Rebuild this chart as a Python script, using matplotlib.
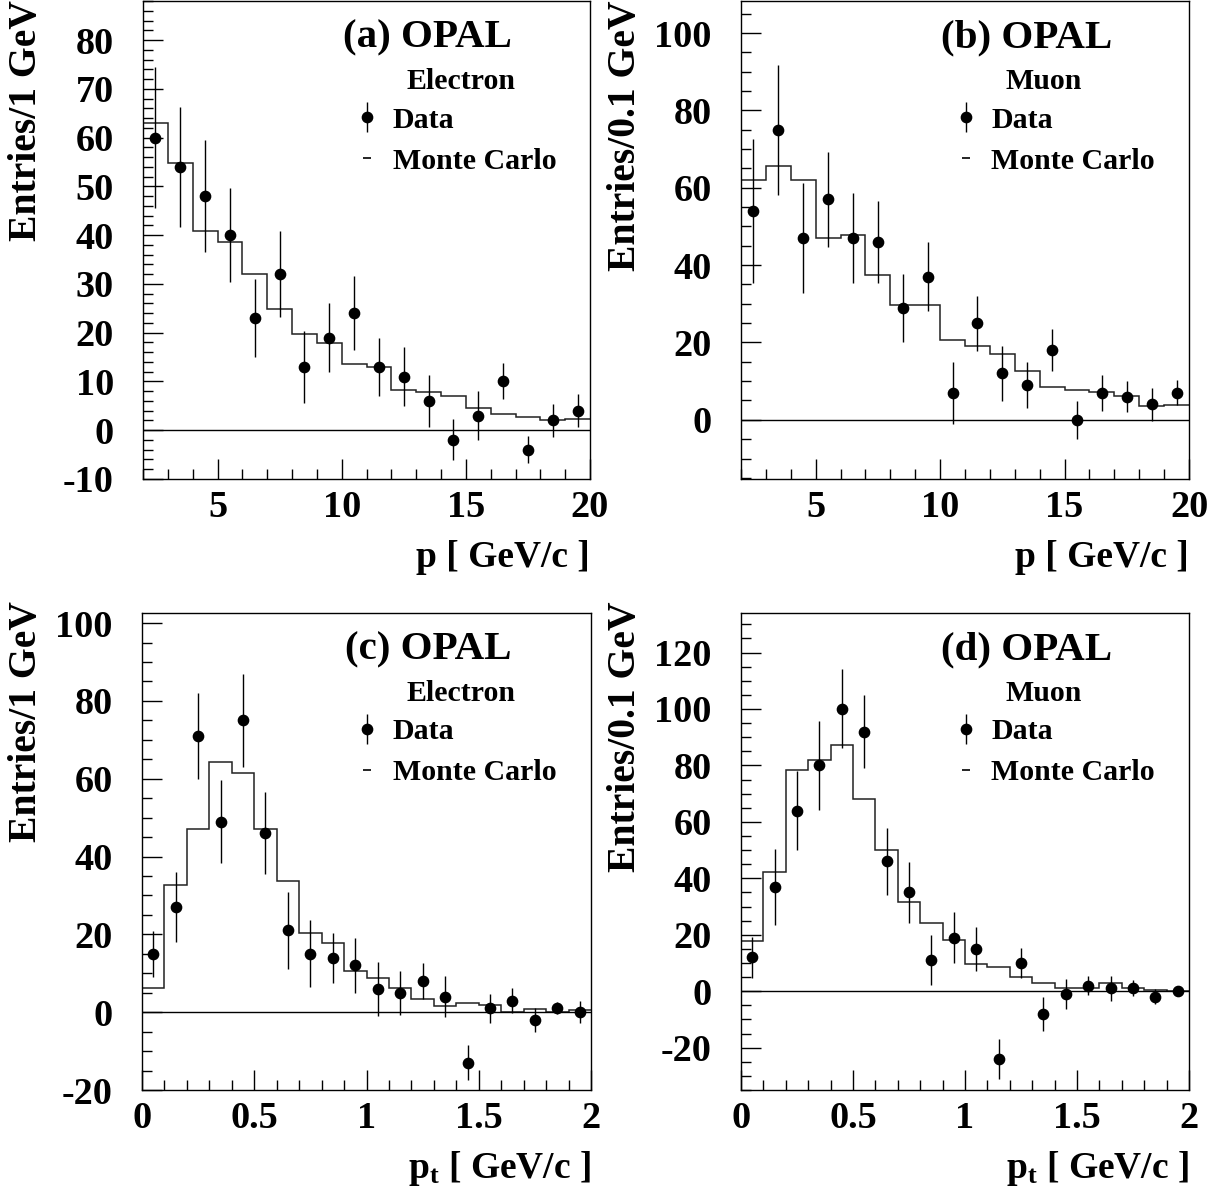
import numpy as np
import matplotlib
matplotlib.use("Agg")
import matplotlib.pyplot as plt
from matplotlib.lines import Line2D
from matplotlib.ticker import MultipleLocator

plt.rcParams['font.family'] = ['Liberation Serif', 'DejaVu Serif']
plt.rcParams['font.weight'] = 'bold'
plt.rcParams['axes.unicode_minus'] = False
plt.rcParams['mathtext.fontset'] = 'custom'
plt.rcParams['mathtext.rm'] = 'Liberation Serif:bold'
plt.rcParams['mathtext.bf'] = 'Liberation Serif:bold'
plt.rcParams['mathtext.it'] = 'Liberation Serif:bold'

# momentum p, 1 GeV bins from 2 to 20
p_edges = [2, 3, 4, 5, 6, 7, 8, 9, 10, 11, 12, 13, 14, 15, 16, 17, 18, 19, 20]
# transverse momentum pt, 0.1 GeV bins from 0 to 2
pt_edges = [0.0, 0.1, 0.2, 0.3, 0.4, 0.5, 0.6, 0.7, 0.8, 0.9, 1.0,
            1.1, 1.2, 1.3, 1.4, 1.5, 1.6, 1.7, 1.8, 1.9, 2.0]

# (a) electron p
a_data = [60, 54, 48, 40, 23, 32, 13, 19, 24, 13, 11, 6, -2, 3, 10, -4, 2, 4]
a_err = [14.4, 12.3, 11.4, 9.7, 8.0, 8.8, 7.4, 7.0, 7.6, 5.9, 6.1, 5.3, 4.2, 5.1, 3.7, 2.8, 3.4, 3.4]
a_mc = [62.9, 54.8, 40.9, 38.6, 32.1, 24.8, 19.7, 17.8, 13.5, 13.0, 8.2, 7.9, 7.1, 4.6, 3.4, 2.7, 2.1, 2.2]

# (b) muon p
b_data = [54, 75, 47, 57, 47, 46, 29, 37, 7, 25, 12, 9, 18, 0, 7, 6, 4, 7]
b_err = [18.7, 16.8, 14.3, 12.3, 11.7, 10.7, 8.8, 8.9, 8.0, 7.1, 7.2, 6.0, 5.5, 4.9, 4.6, 4.0, 4.2, 3.2]
b_mc = [62.0, 65.7, 62.0, 46.9, 47.8, 37.4, 29.8, 29.8, 20.6, 19.0, 17.0, 12.5, 8.4, 7.8, 7.1, 6.2, 3.7, 3.9]

# (c) electron pt
c_data = [15, 27, 71, 49, 75, 46, 21, 15, 14, 12, 6, 5, 8, 4, -13, 1, 3, -2, 1, 0]
c_err = [5.9, 9.0, 11.0, 10.7, 11.9, 10.5, 10.0, 8.6, 6.4, 7.0, 6.9, 5.7, 4.7, 5.3, 4.5, 3.7, 3.2, 3.1, 1.5, 2.8]
c_mc = [6.2, 32.7, 47.0, 64.4, 61.4, 47.2, 33.8, 20.3, 17.7, 10.6, 8.7, 6.2, 3.3, 1.7, 2.3, 1.9, 0.0, 0.8, 0.1, 0.5]

# (d) muon pt
d_data = [12, 37, 64, 80, 100, 92, 46, 35, 11, 19, 15, -24, 10, -8, -1, 2, 1, 1, -2, 0]
d_err = [7.3, 13.5, 14.0, 15.8, 14.0, 13.0, 11.9, 10.9, 8.8, 8.9, 7.7, 7.1, 5.4, 6.1, 5.2, 3.4, 4.3, 2.8, 2.7, 1.4]
d_mc = [17.8, 42.1, 78.5, 82.0, 87.1, 68.2, 49.9, 31.6, 24.2, 18.0, 9.8, 8.6, 5.0, 3.0, 1.2, 1.2, 3.0, 1.2, 0.6, 0.2]

W, H = 1219, 1192
fig = plt.figure(figsize=(W / 100, H / 100), dpi=100)

# axes boxes in pixels: left, top, right, bottom
panels = [
    dict(box=(143, 1, 590, 479), edges=p_edges, data=a_data, err=a_err, mc=a_mc,
         tag='(a) OPAL', kind='Electron', ylim=(-10, 88), ymaj=10, ymin=2,
         xlim=(2, 20), xmaj=5, xmin=1, ylab='Entries/1 GeV', ylx=27, ylt=0,
         xlab='p [ GeV/c ]', xticks=[5, 10, 15, 20]),
    dict(box=(741, 1, 1189, 479), edges=p_edges, data=b_data, err=b_err, mc=b_mc,
         tag='(b) OPAL', kind='Muon', ylim=(-15.3, 108.3), ymaj=20, ymin=5,
         xlim=(2, 20), xmaj=5, xmin=1, ylab='Entries/0.1 GeV', ylx=625, ylt=0,
         xlab='p [ GeV/c ]', xticks=[5, 10, 15, 20]),
    dict(box=(142, 613, 591, 1090), edges=pt_edges, data=c_data, err=c_err, mc=c_mc,
         tag='(c) OPAL', kind='Electron', ylim=(-20, 102.6), ymaj=20, ymin=5,
         xlim=(0, 2), xmaj=0.5, xmin=0.1, ylab='Entries/1 GeV', ylx=27, ylt=601,
         xlab=r'$\mathbf{p_t}$ [ GeV/c ]', xticks=[0, 0.5, 1, 1.5, 2]),
    dict(box=(741, 613, 1189, 1090), edges=pt_edges, data=d_data, err=d_err, mc=d_mc,
         tag='(d) OPAL', kind='Muon', ylim=(-35, 134), ymaj=20, ymin=5,
         xlim=(0, 2), xmaj=0.5, xmin=0.1, ylab='Entries/0.1 GeV', ylx=625, ylt=601,
         xlab=r'$\mathbf{p_t}$ [ GeV/c ]', xticks=[0, 0.5, 1, 1.5, 2]),
]

for p in panels:
    l, t, r, b = p['box']
    ax = fig.add_axes([l / W, 1 - b / H, (r - l) / W, (b - t) / H])
    edges = np.array(p['edges'], dtype=float)
    centers = 0.5 * (edges[:-1] + edges[1:])

    ax.stairs(p['mc'], edges, color='#222222', lw=1.1, baseline=None)
    eb = ax.errorbar(centers, p['data'], yerr=p['err'], fmt='o', color='k',
                     ms=7.4, elinewidth=1.0, capsize=0)
    ax.axhline(0, color='k', lw=1.0)

    ax.set_xlim(*p['xlim'])
    ax.set_ylim(*p['ylim'])
    ax.xaxis.set_minor_locator(MultipleLocator(p['xmin']))
    ax.yaxis.set_major_locator(MultipleLocator(p['ymaj']))
    ax.yaxis.set_minor_locator(MultipleLocator(p['ymin']))
    ax.set_xticks(p['xticks'])
    ax.set_xticklabels([('%g' % v) for v in p['xticks']])
    ax.tick_params(which='both', direction='in', top=False, right=False,
                   width=1.0, labelsize=27.5)
    ax.tick_params(which='major', length=14.5)
    ax.tick_params(which='minor', length=7.5)
    ax.tick_params(axis='y', which='major', pad=21)
    ax.tick_params(axis='x', which='major', pad=8)
    for s in ax.spines.values():
        s.set_linewidth(1.0)

    ax.text(0.637, 0.922, p['tag'], transform=ax.transAxes, ha='center', va='center',
            fontsize=29.5, fontweight='bold')
    ax.text(0.711 if p['kind'] == 'Electron' else 0.675, 0.832, p['kind'],
            transform=ax.transAxes, ha='center', va='center', fontsize=21.5,
            fontweight='bold')

    mc_handle = Line2D([], [], color='k', marker='_', ls='none', ms=6, mew=1.2)
    ax.legend([eb, mc_handle], ['Data', 'Monte Carlo'], loc='upper left',
              bbox_to_anchor=(0.4815, 0.779), frameon=False,
              handlelength=0.6, handletextpad=0.556, borderpad=0, borderaxespad=0,
              labelspacing=0.47, prop={'weight': 'bold', 'size': 21.5})

    fig.text(p['ylx'] / W, 1 - p['ylt'] / H, p['ylab'], rotation=90,
             ha='center', va='top', fontsize=28.5, fontweight='bold')
    fig.text(r / W, 1 - (b + 78) / H, p['xlab'], ha='right', va='center',
             fontsize=27, fontweight='bold')

fig.savefig('out.png', dpi=100)
